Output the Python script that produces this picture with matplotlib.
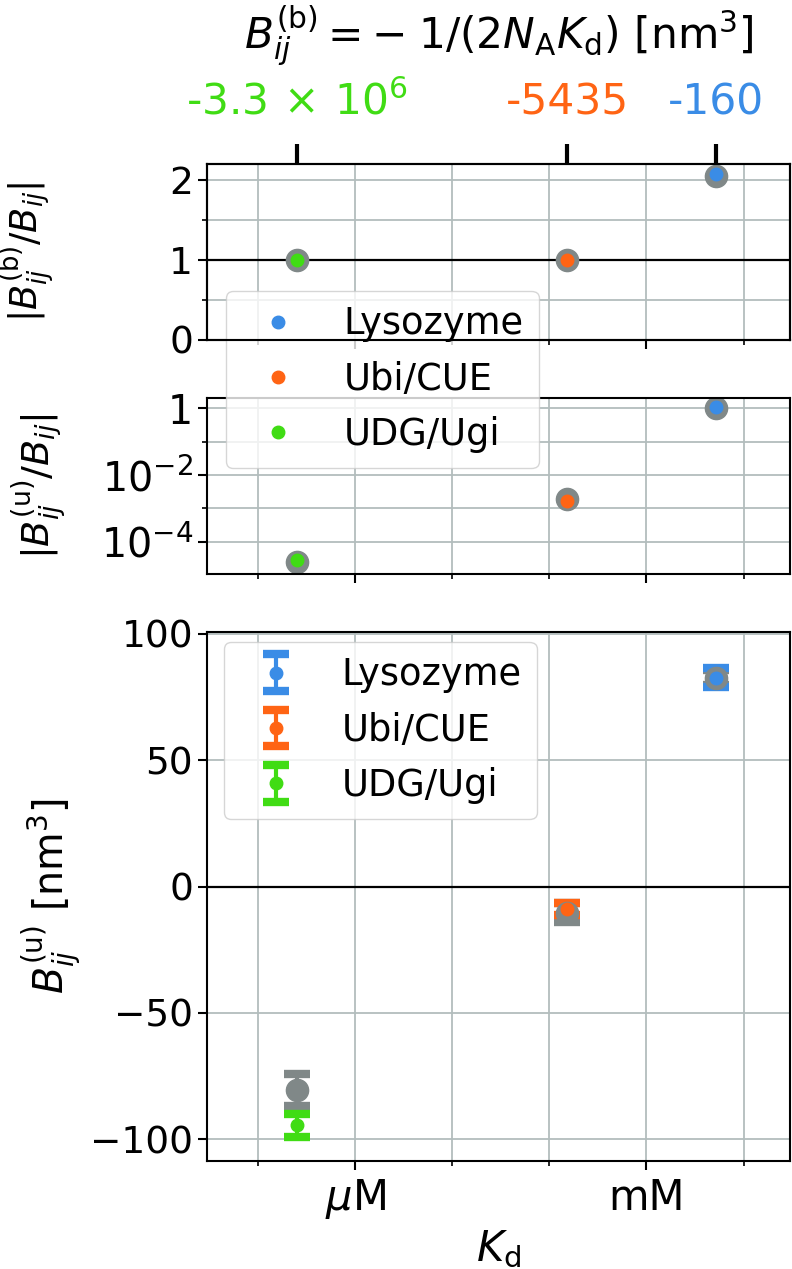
import numpy as np
import matplotlib
matplotlib.use("Agg")
import matplotlib.pyplot as plt
from matplotlib.ticker import NullFormatter

# systems, in legend order
names = ["Lysozyme", "Ubi/CUE", "UDG/Ugi"]
colors = ["#3a8ce6", "#ff6414", "#40dc14"]
gray = "#808888"

# dissociation constants [M]
kd = [5.19e-3, 1.53e-4, 2.52e-7]
# B_ij^(b) labels for the top axis
bb_labels = ["-160", "-5435", r"-3.3$\,\times\,10^6$"]

# |B^(b)/B| (top panel)
ratio_b = [2.07, 1.0, 1.0]
ratio_b_gray = [2.05, 1.0, 1.0]

# |B^(u)/B| (middle panel)
ratio_u = [1.07, 1.65e-3, 2.85e-5]
ratio_u_gray = [1.06, 1.9e-3, 2.45e-5]

# B^(u) [nm^3] with errors (bottom panel)
bu = [82.7, -8.9, -94.5]
bu_err = [3.7, 2.4, 4.5]
bu_gray = [82.7, -10.3, -80.7]
bu_gray_err = [3.0, 3.8, 6.4]

plt.rcParams["font.size"] = 27
plt.rcParams["legend.fontsize"] = 26.5
plt.rcParams["axes.linewidth"] = 1.5
plt.rcParams["mathtext.fontset"] = "dejavusans"

grid_color = "#b3bdbd"
fig = plt.figure(figsize=(7.92, 12.69), dpi=100)

left, width = 0.2614, 0.7361
ax3 = fig.add_axes([left, 0.0851, width, 0.4165])
ax1 = fig.add_axes([left, 0.7321, width, 0.1387], sharex=ax3)
ax2 = fig.add_axes([left, 0.5474, width, 0.1387], sharex=ax3)

ms_big, ms_small = 16, 9

# top panel
ax1.axhline(1, color="black", lw=1.6)
for i in range(3):
    ax1.plot(kd[i], ratio_b_gray[i], "o", color=gray, ms=ms_big)
handles = []
for i in range(3):
    h, = ax1.plot(kd[i], ratio_b[i], "o", color=colors[i], ms=ms_small, label=names[i])
    handles.append(h)
ax1.set_ylim(0, 2.2)
ax1.set_yticks([0, 1, 2])
ax1.set_yticks([0.5, 1.5], minor=True)
ax1.set_ylabel(r"$|B_{ij}^{(\mathrm{b})}/B_{ij}|$", fontsize=26.5)
ax1.yaxis.set_label_coords(-0.258, 0.5)

# middle panel
for i in range(3):
    ax2.plot(kd[i], ratio_u_gray[i], "o", color=gray, ms=ms_big)
for i in range(3):
    ax2.plot(kd[i], ratio_u[i], "o", color=colors[i], ms=ms_small)
ax2.set_yscale("log")
ax2.set_ylim(1.05e-5, 2)
ax2.set_yticks([1e-4, 1e-2, 1])
ax2.set_yticklabels([r"$10^{-4}$", r"$10^{-2}$", "1"], fontsize=28.5)
ax2.set_yticks([1e-3, 1e-1], minor=True)
ax2.yaxis.set_minor_formatter(NullFormatter())
ax2.set_ylabel(r"$|B_{ij}^{(\mathrm{u})}/B_{ij}|$", fontsize=27.5)
ax2.yaxis.set_label_coords(-0.236, 0.5)
ax2.legend(handles, names, loc="upper left", borderaxespad=0,
           bbox_to_anchor=(0.2854, 0.7709), bbox_transform=fig.transFigure)

# bottom panel
ax3.axhline(0, color="black", lw=1.6)
eb_kw = dict(fmt="o", elinewidth=3, capsize=9.5, capthick=6)
for i in range(3):
    ax3.errorbar(kd[i], bu_gray[i], yerr=bu_gray_err[i], color=gray, ms=ms_big, **eb_kw)
for i in range(3):
    ax3.errorbar(kd[i], bu[i], yerr=bu_err[i], color=colors[i], ms=ms_small,
                 label=names[i], **eb_kw)
ax3.set_ylim(-108.7, 100.6)
ax3.set_yticks([-100, -50, 0, 50, 100])
ax3.set_ylabel(r"$B_{ij}^{(\mathrm{u})}$ [nm$^3$]", fontsize=28.5)
ax3.yaxis.set_label_coords(-0.211, 0.5)
ax3.legend(loc="upper left", borderaxespad=0,
           bbox_to_anchor=(0.2828, 0.4943), bbox_transform=fig.transFigure)

ax3.set_xscale("log")
ax3.set_xlim(3e-8, 3e-2)
ax3.set_xticks([1e-6, 1e-3])
ax3.set_xticklabels([r"$\mu$M", "mM"], fontsize=30)
ax3.set_xticks([1e-7, 1e-5, 1e-4, 1e-2], minor=True)
ax3.xaxis.set_minor_formatter(NullFormatter())
ax3.set_xlabel(r"$K_\mathrm{d}$", fontsize=30, labelpad=5)

for ax in (ax1, ax2, ax3):
    ax.grid(True, which="both", color=grid_color, lw=1.3)
    ax.set_axisbelow(True)
    ax.tick_params(which="major", length=6.5, width=1.5)
    ax.tick_params(which="minor", length=3.5, width=1.2)
ax1.tick_params(labelbottom=False)
ax2.tick_params(labelbottom=False)
ax3.tick_params(axis="x", which="major", pad=5)

# top axis with B^(b) values
axt = ax1.twiny()
axt.set_xscale("log")
axt.set_xlim(ax3.get_xlim())
axt.set_xticks(kd)
axt.set_xticklabels(bb_labels, fontsize=30.5)
axt.set_xticks([], minor=True)
axt.tick_params(which="major", length=14.5, width=3, pad=14.5)
for lab, c in zip(axt.get_xticklabels(), colors):
    lab.set_color(c)
axt.set_xlabel(r"$B_{ij}^{(\mathrm{b})} = -\;1/(2N_\mathrm{A}K_\mathrm{d})$ [nm$^3$]",
               fontsize=30.5, labelpad=23.5)

fig.savefig("out.png", dpi=100)
